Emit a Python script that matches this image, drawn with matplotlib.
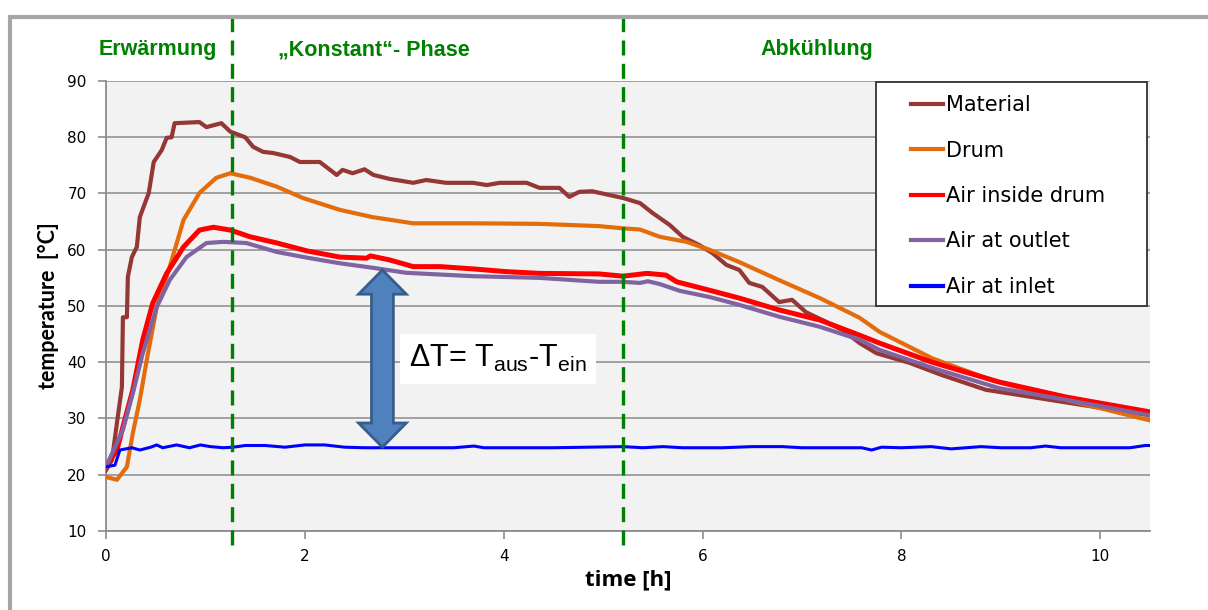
import matplotlib
matplotlib.use('Agg')
import matplotlib.pyplot as plt
from matplotlib.patches import Rectangle, Polygon

mat_t = [0.0, 0.06, 0.11, 0.16, 0.17, 0.21, 0.22, 0.26, 0.31, 0.34, 0.43, 0.48, 0.56, 0.61, 0.66, 0.69,
         0.94, 1.01, 1.16, 1.25, 1.40, 1.48, 1.58, 1.68, 1.85, 1.95, 2.15, 2.32, 2.38, 2.48, 2.60, 2.69,
         2.85, 3.09, 3.22, 3.42, 3.69, 3.83, 3.96, 4.23, 4.36, 4.56, 4.66, 4.76, 4.89, 5.07, 5.20, 5.37,
         5.50, 5.67, 5.80, 5.97, 6.10, 6.24, 6.37, 6.47, 6.60, 6.77, 6.90, 7.04, 7.24, 7.41, 7.58, 7.75,
         8.08, 8.41, 8.85, 9.32, 9.82, 10.49]
mat_T = [20.8, 22.6, 29.2, 35.6, 48.0, 48.0, 55.2, 58.7, 60.5, 65.8, 70.1, 75.6, 77.7, 79.9, 80.0, 82.5,
         82.7, 81.8, 82.5, 81.0, 80.0, 78.3, 77.4, 77.2, 76.5, 75.6, 75.6, 73.3, 74.2, 73.6, 74.3, 73.3,
         72.6, 71.9, 72.4, 71.9, 71.9, 71.5, 71.9, 71.9, 71.0, 71.0, 69.4, 70.3, 70.4, 69.7, 69.2, 68.3,
         66.5, 64.4, 62.3, 60.8, 59.4, 57.3, 56.4, 54.1, 53.4, 50.7, 51.1, 48.9, 47.2, 45.7, 43.4, 41.6,
         39.9, 37.7, 35.1, 33.8, 32.4, 30.6]

drum_t = [0.0, 0.11, 0.21, 0.27, 0.34, 0.41, 0.51, 0.64, 0.78, 0.94, 1.11, 1.25, 1.45, 1.72, 1.98,
          2.35, 2.68, 3.09, 3.69, 4.36, 4.96, 5.20, 5.37, 5.57, 5.84, 6.07, 6.37, 6.77, 7.18, 7.58,
          7.78, 8.31, 8.91, 9.66, 10.49]
drum_T = [19.6, 19.1, 21.4, 27.4, 33.3, 40.4, 49.8, 56.9, 65.3, 70.1, 72.8, 73.6, 72.8, 71.2, 69.2,
          67.1, 65.8, 64.7, 64.7, 64.6, 64.2, 63.8, 63.6, 62.3, 61.4, 60.0, 57.8, 54.6, 51.4, 47.9,
          45.4, 40.7, 36.8, 33.3, 29.7]

inside_t = [0.0, 0.11, 0.17, 0.27, 0.37, 0.47, 0.61, 0.78, 0.94, 1.08, 1.25, 1.45, 1.72, 2.02, 2.35,
            2.62, 2.66, 2.85, 3.09, 3.36, 3.69, 4.03, 4.36, 4.96, 5.20, 5.44, 5.63, 5.74, 6.07, 6.37,
            6.77, 7.18, 7.58, 7.78, 8.31, 8.98, 9.66, 10.49]
inside_T = [21.4, 24.4, 28.5, 35.1, 44.0, 50.5, 55.8, 60.5, 63.5, 64.0, 63.5, 62.3, 61.2, 59.8, 58.7,
            58.5, 58.9, 58.2, 57.0, 57.0, 56.6, 56.1, 55.8, 55.7, 55.3, 55.8, 55.5, 54.3, 52.8, 51.4,
            49.3, 47.5, 44.8, 43.4, 40.0, 36.5, 33.8, 31.2]

outlet_t = [0.0, 0.17, 0.27, 0.37, 0.51, 0.64, 0.81, 1.01, 1.18, 1.41, 1.72, 2.02, 2.35, 2.68, 3.02,
            3.69, 4.36, 4.96, 5.20, 5.37, 5.45, 5.57, 5.77, 6.07, 6.37, 6.77, 7.18, 7.58, 7.78, 8.31,
            8.98, 9.66, 10.49]
outlet_T = [21.4, 28.0, 34.5, 41.6, 49.8, 54.6, 58.7, 61.2, 61.4, 61.2, 59.6, 58.6, 57.6, 56.8, 55.9,
            55.3, 55.0, 54.3, 54.3, 54.1, 54.4, 53.9, 52.7, 51.6, 50.2, 48.1, 46.3, 44.0, 42.2, 39.0,
            35.4, 33.3, 30.6]

inlet_t = [0.0, 0.09, 0.14, 0.20, 0.26, 0.34, 0.45, 0.51, 0.57, 0.71, 0.84, 0.95, 1.05, 1.18, 1.28,
           1.40, 1.60, 1.80, 2.00, 2.20, 2.40, 2.60, 3.00, 3.50, 3.70, 3.80, 4.50, 5.20, 5.40, 5.60,
           5.80, 6.20, 6.50, 6.80, 7.00, 7.60, 7.70, 7.80, 8.00, 8.30, 8.50, 8.80, 9.00, 9.30, 9.45,
           9.60, 10.00, 10.30, 10.45, 10.50]
inlet_T = [21.4, 21.7, 24.4, 24.6, 24.8, 24.4, 24.9, 25.3, 24.8, 25.3, 24.8, 25.3, 25.0, 24.8, 24.9,
           25.2, 25.2, 24.9, 25.3, 25.3, 24.9, 24.8, 24.8, 24.8, 25.1, 24.8, 24.8, 25.0, 24.8, 25.0,
           24.8, 24.8, 25.0, 25.0, 24.8, 24.8, 24.4, 24.9, 24.8, 25.0, 24.6, 25.0, 24.8, 24.8, 25.1,
           24.8, 24.8, 24.8, 25.2, 25.2]

serien = [
    ("Material", mat_t, mat_T, '#953735', 3.0),
    ("Drum", drum_t, drum_T, '#E46C0A', 3.0),
    ("Air inside drum", inside_t, inside_T, '#FF0000', 3.6),
    ("Air at outlet", outlet_t, outlet_T, '#8064A2', 3.0),
    ("Air at inlet", inlet_t, inlet_T, '#0000FF', 2.2),
]

phasen_grenzen = [1.27, 5.2]
phasen_namen = ["Erwärmung", "„Konstant“- Phase", "Abkühlung"]
phasen_x = [158, 374, 817]  # Pixel-Mitte der Beschriftung

GRUEN = '#008000'

fig = plt.figure(figsize=(12.08, 6.10), dpi=100)
W, H = 1208, 610
ax = fig.add_axes([106 / W, 1 - 531 / H, (1150 - 106) / W, (531 - 81) / H])
ax.set_facecolor('#F2F2F2')

# Rahmen der Folie
fig.add_artist(Rectangle((10 / W, -0.1), 1.2, 1 - 17 / H + 0.1, transform=fig.transFigure,
                         fill=False, edgecolor='#A6A6A6', linewidth=3))

for name, t, T, farbe, lw in serien:
    ax.plot(t, T, color=farbe, linewidth=lw, label=name, solid_joinstyle='round', zorder=3)

ax.set_xlim(0, 10.5)
ax.set_ylim(10, 90)
ax.set_xticks(range(0, 11, 2))
ax.set_yticks(range(10, 91, 10))
ax.yaxis.grid(True, color='#9A9A9A', linewidth=1.3)
ax.set_axisbelow(True)
for s in ['top', 'right']:
    ax.spines[s].set_visible(False)
for s in ['left', 'bottom']:
    ax.spines[s].set_color('#8C8C8C')
    ax.spines[s].set_linewidth(1.3)
ax.tick_params(axis='both', direction='out', length=6, width=1.2, color='#8C8C8C',
               labelsize=11, labelcolor='black')
ax.tick_params(axis='y', pad=8)
ax.tick_params(axis='x', pad=7)

ax.set_xlabel("time [h]", fontsize=16, fontweight='bold', family='Open Sans', labelpad=4)
ax.set_ylabel("temperature  [°C]", fontsize=15.5, fontweight='bold', family='Lato', labelpad=6)

# Phasengrenzen
for xg in phasen_grenzen:
    ax.plot([xg, xg], [7.5, 102.6], color=GRUEN, linewidth=2.4, dashes=(4.5, 2.5),
            clip_on=False, zorder=4)
for name, px in zip(phasen_namen, phasen_x):
    fig.text(px / W, 1 - 50 / H, name, color=GRUEN, fontsize=15.5, fontweight='bold',
             family='Liberation Sans', ha='center', va='center')

# Doppelpfeil Delta T
pf_x, pf_oben, pf_unten = 2.78, 56.4, 24.9
schaft, kopf, kopf_l = 0.11, 0.24, 4.3
pfeil = [(pf_x, pf_oben), (pf_x + kopf, pf_oben - kopf_l), (pf_x + schaft, pf_oben - kopf_l),
         (pf_x + schaft, pf_unten + kopf_l), (pf_x + kopf, pf_unten + kopf_l), (pf_x, pf_unten),
         (pf_x - kopf, pf_unten + kopf_l), (pf_x - schaft, pf_unten + kopf_l),
         (pf_x - schaft, pf_oben - kopf_l), (pf_x - kopf, pf_oben - kopf_l)]
ax.add_patch(Polygon(pfeil, closed=True, facecolor='#4F81BD', edgecolor='#385D8A',
                     linewidth=2, zorder=5))

ax.text(3.94, 40.6, r"ΔT= T$_\mathregular{aus}$-T$_\mathregular{ein}$", fontsize=22,
        family='Liberation Sans', ha='center', va='center', zorder=6,
        bbox=dict(facecolor='white', edgecolor='none', boxstyle='square,pad=0.3'))

# Legende mit eigenem Rahmen
fig.add_artist(Rectangle((876 / W, 1 - 306 / H), (1147 - 876) / W, (306 - 82) / H,
                         transform=fig.transFigure, facecolor='white', edgecolor='#333333',
                         linewidth=1.3, zorder=7))
leg = fig.legend(loc='upper left', bbox_to_anchor=(907 / W, 1 - 91 / H), frameon=False,
                 prop={'family': 'DejaVu Sans', 'size': 15}, handlelength=1.55,
                 handletextpad=0.1, labelspacing=1.22, borderaxespad=0, borderpad=0.2)
leg.set_zorder(8)
for linie in leg.get_lines():
    linie.set_linewidth(3)

plt.savefig("out.png", dpi=100)
plt.close()
